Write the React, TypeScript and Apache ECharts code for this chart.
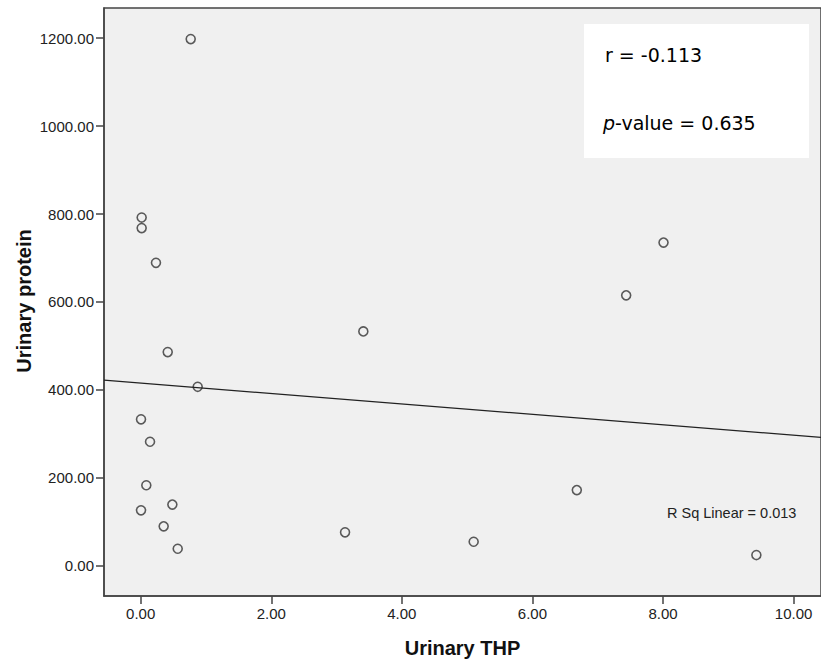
import React, { useEffect, useRef } from "react";
import * as echarts from "echarts";

// Urinary THP (x) vs urinary protein (y), one entry per patient
const thp = [
  0.766, 0.015, 0.015, 0.234, 0.414, 0.873, 0.005, 0.143, 0.086, 0.005,
  0.485, 0.352, 0.567, 3.13, 3.41, 5.1, 6.68, 7.436, 8.008, 9.43,
];
const protein = [
  1198, 792, 768, 689, 486, 407, 333, 282, 183, 126,
  139, 89.5, 38.6, 76, 533, 54.5, 172, 615, 735, 24.3,
];

// Fitted linear regression (protein = intercept + slope * THP)
const fitIntercept = 415.4;
const fitSlope = -11.85;

const xTicks = [0, 2, 4, 6, 8, 10];
const yTicks = [0, 200, 400, 600, 800, 1000, 1200];
const xRange = [-0.562, 10.42];
const yRange = [-68.9, 1268.6];

const statsR = "r = -0.113";
const statsP = "0.635";
const rSqLabel = "R Sq Linear = 0.013";

export default function App() {
  const ref = useRef<HTMLDivElement>(null);

  useEffect(() => {
    if (!ref.current) return;
    const chart = echarts.init(ref.current, undefined, { renderer: "svg" });
    const points = thp.map((x, i) => [x, protein[i]]);
    const fitLine = xRange.map((x) => [x, fitIntercept + fitSlope * x]);
    const axisFont = {
      fontFamily: "Liberation Sans, Arial, sans-serif",
      fontSize: 15,
      color: "#222",
    };
    const boxFont = "DejaVu Sans, Verdana, sans-serif";
    chart.setOption({
      animation: false,
      grid: {
        left: 104,
        right: -3,
        top: 8,
        bottom: 66,
        show: true,
        backgroundColor: "#f0f0f0",
        borderColor: "#444",
        borderWidth: 1.5,
      },
      xAxis: {
        type: "value",
        min: xRange[0],
        max: xRange[1],
        splitLine: { show: false },
        axisLine: { show: true, onZero: false, lineStyle: { color: "#444", width: 1.5 } },
        axisTick: {
          show: true,
          length: 8,
          customValues: xTicks,
          lineStyle: { color: "#444", width: 1.5 },
        },
        axisLabel: {
          ...axisFont,
          margin: 10,
          customValues: xTicks,
          formatter: (v: number) => v.toFixed(2),
        },
      },
      yAxis: {
        type: "value",
        min: yRange[0],
        max: yRange[1],
        splitLine: { show: false },
        axisLine: { show: true, onZero: false, lineStyle: { color: "#444", width: 1.5 } },
        axisTick: {
          show: true,
          length: 8,
          customValues: yTicks,
          lineStyle: { color: "#444", width: 1.5 },
        },
        axisLabel: {
          ...axisFont,
          margin: 10,
          customValues: yTicks,
          formatter: (v: number) => v.toFixed(2),
        },
      },
      series: [
        {
          type: "line",
          data: fitLine,
          showSymbol: false,
          silent: true,
          lineStyle: { color: "#222", width: 1.2 },
        },
        {
          type: "scatter",
          data: points,
          symbol: "circle",
          symbolSize: 9,
          itemStyle: {
            color: "rgba(0,0,0,0)",
            borderColor: "#333",
            borderWidth: 1.6,
          },
        },
      ],
      graphic: [
        {
          type: "rect",
          shape: { x: 584, y: 24, width: 225, height: 134 },
          style: { fill: "#ffffff" },
          z: 10,
        },
        {
          type: "text",
          x: 605,
          y: 55,
          z: 11,
          style: {
            text: statsR,
            fontFamily: boxFont,
            fontSize: 19,
            fill: "#000",
            verticalAlign: "middle",
          },
        },
        {
          type: "text",
          x: 603,
          y: 123,
          z: 11,
          style: {
            text: "{i|p}-value = " + statsP,
            fontFamily: boxFont,
            fontSize: 19,
            fill: "#000",
            verticalAlign: "middle",
            rich: {
              i: {
                fontStyle: "italic",
                fontFamily: boxFont,
                fontSize: 19,
                fill: "#000",
              },
            },
          },
        },
        {
          type: "text",
          x: 667,
          y: 513,
          z: 11,
          style: {
            text: rSqLabel,
            fontFamily: "Liberation Sans, Arial, sans-serif",
            fontSize: 14.5,
            fill: "#222",
            verticalAlign: "middle",
          },
        },
        {
          type: "text",
          x: 462.5,
          y: 648,
          style: {
            text: "Urinary THP",
            fontFamily: "Liberation Sans, Arial, sans-serif",
            fontWeight: "bold",
            fontSize: 20,
            fill: "#111",
            align: "center",
            verticalAlign: "middle",
          },
        },
        {
          type: "text",
          x: 24,
          y: 301,
          rotation: Math.PI / 2,
          style: {
            text: "Urinary protein",
            fontFamily: "Liberation Sans, Arial, sans-serif",
            fontWeight: "bold",
            fontSize: 20,
            fill: "#111",
            align: "center",
            verticalAlign: "middle",
          },
        },
      ],
    });
    return () => chart.dispose();
  }, []);

  return (
    <div
      ref={ref}
      style={{ position: "absolute", left: 0, top: 0, width: 821, height: 662, background: "#fff" }}
    />
  );
}
